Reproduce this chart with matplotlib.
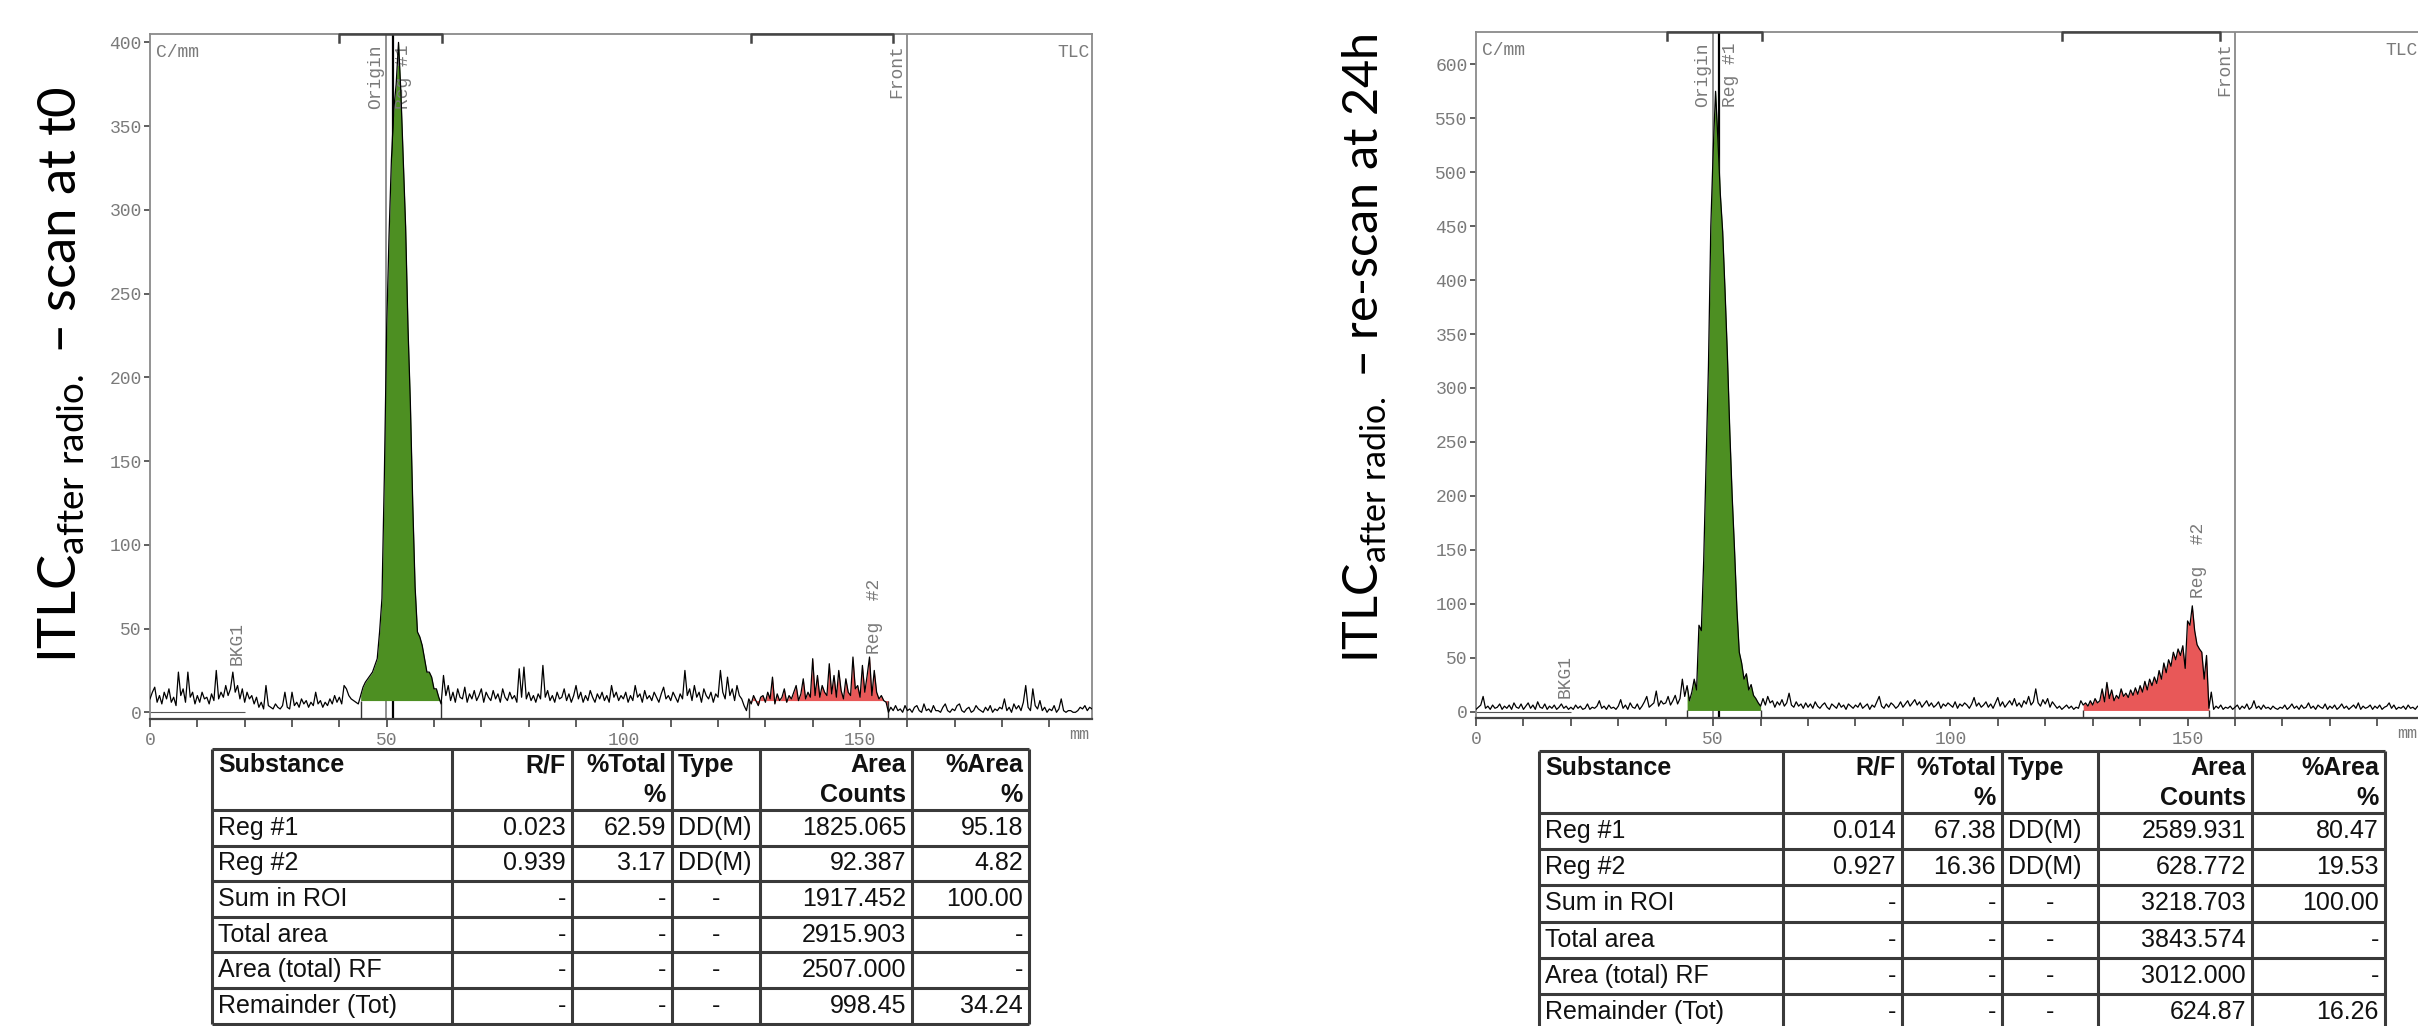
import numpy as np
import matplotlib.pyplot as plt

# counts per mm along the strip, one reading every 0.5 mm (0 .. 199.5 mm)
counts_t0 = [
    8, 12, 15, 6, 10, 5, 12, 8, 14, 6, 9, 4, 24, 10, 14, 6, 24, 9, 12, 5,
    10, 6, 12, 8, 9, 5, 11, 7, 25, 8, 12, 9, 16, 10, 14, 24, 12, 16, 8, 14,
    6, 12, 8, 10, 5, 9, 3, 6, 2, 16, 4, 3, 2, 5, 3, 2, 4, 12, 3, 2,
    12, 4, 6, 3, 8, 5, 7, 3, 6, 4, 12, 5, 7, 3, 6, 4, 8, 5, 10, 6,
    9, 5, 16, 14, 10, 8, 7, 6, 5, 10, 15, 18, 20, 22, 24, 28, 32, 48, 68, 140,
    230, 285, 330, 360, 375, 400, 370, 330, 290, 230, 185, 125, 75, 48, 45, 40, 32, 24, 24, 21,
    14, 14, 9, 5, 22, 10, 16, 7, 12, 6, 14, 9, 8, 15, 6, 11, 8, 13, 7, 10,
    14, 6, 12, 9, 7, 13, 8, 11, 6, 14, 9, 7, 12, 8, 10, 6, 26, 9, 27, 8,
    12, 7, 10, 6, 11, 8, 28, 9, 13, 7, 10, 6, 12, 8, 9, 14, 7, 11, 6, 10,
    16, 8, 12, 6, 10, 7, 13, 9, 6, 11, 8, 12, 7, 10, 6, 16, 9, 12, 7, 10,
    8, 12, 6, 10, 7, 16, 9, 11, 6, 13, 8, 10, 7, 12, 9, 6, 11, 15, 8, 10,
    7, 12, 9, 6, 11, 8, 25, 10, 14, 7, 16, 9, 12, 6, 14, 10, 8, 12, 6, 11,
    9, 25, 12, 8, 21, 10, 14, 7, 16, 10, 8, 4, 1, 8, 5, 10, 7, 4, 9, 10,
    6, 12, 8, 21, 5, 11, 7, 9, 14, 6, 10, 8, 12, 16, 7, 11, 20, 8, 12, 9,
    32, 10, 22, 9, 16, 12, 10, 29, 11, 22, 9, 25, 13, 8, 20, 12, 10, 33, 14, 16,
    9, 28, 12, 22, 33, 10, 25, 12, 8, 10, 7, 6, 0, 3, 1, 4, 1, 2, 0, 4,
    1, 2, 0, 3, 4, 1, 0, 5, 1, 2, 0, 4, 1, 1, 0, 3, 5, 1, 0, 2,
    1, 4, 5, 1, 0, 2, 3, 0, 1, 4, 2, 1, 0, 3, 1, 4, 0, 2, 1, 3,
    2, 8, 1, 3, 0, 5, 2, 4, 1, 6, 16, 3, 1, 14, 4, 2, 7, 1, 3, 0,
    2, 1, 4, 0, 2, 8, 1, 0, 1, 1, 0, 0, 1, 3, 2, 4, 1, 3, 2, 1,
]

counts_24h = [
    2, 4, 6, 14, 3, 5, 2, 6, 3, 4, 7, 2, 5, 3, 6, 2, 8, 4, 3, 7,
    2, 5, 8, 3, 6, 2, 9, 4, 3, 7, 2, 5, 3, 6, 2, 4, 7, 3, 5, 2,
    4, 2, 6, 3, 5, 2, 3, 7, 2, 4, 3, 5, 10, 3, 5, 2, 6, 3, 4, 2,
    5, 11, 3, 6, 2, 8, 4, 3, 7, 2, 5, 9, 14, 4, 6, 8, 19, 5, 10, 7,
    8, 14, 6, 10, 15, 7, 12, 30, 14, 24, 10, 18, 30, 20, 80, 75, 140, 230, 320, 450,
    520, 575, 530, 480, 445, 390, 330, 260, 200, 150, 95, 55, 45, 30, 35, 20, 25, 15, 12, 8,
    5, 12, 6, 14, 8, 10, 4, 9, 6, 11, 5, 8, 17, 6, 4, 9, 5, 7, 3, 8,
    4, 7, 3, 9, 5, 3, 6, 8, 4, 2, 7, 5, 3, 8, 4, 6, 2, 7, 5, 3,
    6, 4, 8, 3, 5, 7, 2, 6, 4, 9, 14, 5, 3, 7, 4, 8, 6, 3, 5, 9,
    4, 7, 10, 5, 8, 11, 6, 9, 4, 7, 10, 5, 8, 4, 6, 9, 3, 7, 5, 8,
    6, 4, 9, 3, 7, 5, 8, 6, 3, 7, 13, 5, 8, 4, 6, 9, 4, 7, 3, 8,
    13, 5, 9, 4, 7, 10, 6, 12, 5, 8, 4, 10, 7, 14, 6, 9, 21, 8, 5, 11,
    7, 12, 4, 9, 6, 3, 5, 2, 4, 6, 3, 5, 2, 4, 3, 10, 6, 8, 5, 10,
    6, 12, 8, 10, 21, 9, 27, 12, 20, 10, 15, 12, 21, 14, 17, 13, 20, 15, 22, 16,
    24, 18, 28, 20, 30, 24, 32, 26, 38, 30, 45, 36, 48, 42, 55, 48, 58, 52, 61, 40,
    84, 80, 98, 75, 62, 58, 55, 30, 52, 3, 18, 2, 5, 3, 6, 2, 4, 3, 5, 2,
    4, 6, 2, 5, 3, 7, 2, 4, 10, 3, 5, 2, 6, 3, 4, 2, 5, 3, 2, 4,
    3, 6, 2, 4, 7, 3, 5, 2, 6, 3, 4, 8, 3, 5, 2, 6, 4, 3, 7, 2,
    5, 3, 6, 2, 4, 7, 3, 5, 2, 4, 6, 3, 8, 2, 5, 3, 4, 6, 2, 5,
    3, 6, 2, 4, 5, 8, 3, 6, 2, 4, 3, 5, 2, 6, 3, 4, 2, 5, 3, 4,
]

# integration regions (mm) and their background level
regions_t0 = [(44.5, 61.5), (126.5, 156.0)]
regions_24h = [(44.5, 60.0), (128.0, 154.6)]
floor_t0 = 7
floor_24h = 1
brackets_t0 = [(40.0, 61.7), (127.0, 157.0)]
brackets_24h = [(40.2, 60.2), (123.5, 156.8)]
origin_mm = [49.8, 50.0]
reg1_mm = [51.3, 51.3]
front_mm = [160.0, 160.0]
reg2_label = [(153.0, 35), (152.3, 105)]
bkg_label = [(18.4, 28), (18.8, 13)]

table_head = [("Substance", ""), ("R/F", ""), ("%Total", "%"), ("Type", ""),
              ("Area", "Counts"), ("%Area", "%")]
rows_t0 = [
    ["Reg #1", "0.023", "62.59", "DD(M)", "1825.065", "95.18"],
    ["Reg #2", "0.939", "3.17", "DD(M)", "92.387", "4.82"],
    ["Sum in ROI", "-", "-", "-", "1917.452", "100.00"],
    ["Total area", "-", "-", "-", "2915.903", "-"],
    ["Area (total) RF", "-", "-", "-", "2507.000", "-"],
    ["Remainder (Tot)", "-", "-", "-", "998.45", "34.24"],
]
rows_24h = [
    ["Reg #1", "0.014", "67.38", "DD(M)", "2589.931", "80.47"],
    ["Reg #2", "0.927", "16.36", "DD(M)", "628.772", "19.53"],
    ["Sum in ROI", "-", "-", "-", "3218.703", "100.00"],
    ["Total area", "-", "-", "-", "3843.574", "-"],
    ["Area (total) RF", "-", "-", "-", "3012.000", "-"],
    ["Remainder (Tot)", "-", "-", "-", "624.87", "16.26"],
]
titles = ["scan at t0", "re-scan at 24h"]

W, H = 2418, 1026
fig = plt.figure(figsize=(W / 100, H / 100), dpi=100)
mono = ["Liberation Mono", "DejaVu Sans Mono"]
sans = ["Liberation Sans", "DejaVu Sans"]
grey = "#7a7a7a"


def px_axes(left, top, right, bottom):
    return fig.add_axes([left / W, 1 - bottom / H, (right - left) / W, (bottom - top) / H])


def draw_scan(ax, counts, regions, floor, brackets, ymax, yticks, i):
    y = np.array(counts, dtype=float)
    x = np.arange(len(y)) * 0.5
    ax.set_xlim(0, 199)
    ax.set_ylim(ymax[0], ymax[1])

    ax.axvline(origin_mm[i], color="#888888", lw=1.3, zorder=1)
    ax.axvline(front_mm[i], color="#888888", lw=1.3, zorder=1)
    ax.axvline(reg1_mm[i], color="black", lw=1.6, zorder=1)

    colors = ["#4d8f22", "#e85858"]
    for (a, b), c in zip(regions, colors):
        m = (x >= a) & (x <= b)
        ax.fill_between(x[m], floor, y[m], color=c, lw=0, zorder=2)
        ax.vlines([a, b], ymax[0], floor, color="#333333", lw=1.0, zorder=3)
    ax.hlines(0, 0, 20, color="#555555", lw=0.8, zorder=2)
    ax.plot(x, y, color="black", lw=0.9, zorder=4)

    # region brackets on top edge
    tick = ymax[1] * 0.012
    for a, b in brackets:
        ax.plot([a, a, b, b], [ymax[1] - tick, ymax[1], ymax[1], ymax[1] - tick],
                color="#444444", lw=1.8, clip_on=False, zorder=5)

    kw = dict(family=mono, fontsize=13, color=grey, rotation=90)
    top = ymax[1] * 0.985
    ax.text(origin_mm[i] - 0.4, top, "Origin", ha="right", va="top", **kw)
    ax.text(reg1_mm[i] + 0.5, top, "Reg #1", ha="left", va="top", **kw)
    ax.text(front_mm[i] - 0.4, top, "Front", ha="right", va="top", **kw)
    ax.text(reg2_label[i][0], reg2_label[i][1], "Reg  #2", ha="center", va="bottom", **kw)
    ax.text(bkg_label[i][0], bkg_label[i][1], "BKG1", ha="center", va="bottom", **kw)
    ax.text(0.006, 0.985, "C/mm", transform=ax.transAxes, ha="left", va="top",
            family=mono, fontsize=13, color=grey)
    ax.text(0.997, 0.985, "TLC", transform=ax.transAxes, ha="right", va="top",
            family=mono, fontsize=13, color=grey)
    ax.text(0.997, -0.012, "mm", transform=ax.transAxes, ha="right", va="top",
            family=mono, fontsize=12, color=grey)

    ax.set_xticks([0, 50, 100, 150])
    ax.set_xticks(np.arange(0, 200, 10), minor=True)
    ax.set_yticks(yticks)
    ax.tick_params(axis="both", which="both", direction="out", colors="#444444",
                   labelcolor=grey, labelsize=13, width=1.2)
    ax.tick_params(axis="x", which="both", length=6)
    ax.tick_params(axis="y", length=4, pad=2)
    for lab in ax.get_xticklabels() + ax.get_yticklabels():
        lab.set_family(mono)
    for s in ["left", "top", "right"]:
        ax.spines[s].set_color("#8a8a8a")
        ax.spines[s].set_linewidth(1.3)
    ax.spines["bottom"].set_color("#444444")
    ax.spines["bottom"].set_linewidth(1.6)


ax1 = px_axes(150, 34, 1092, 719)
draw_scan(ax1, counts_t0, regions_t0, floor_t0, brackets_t0, (-4, 405),
          np.arange(0, 401, 50), 0)
ax2 = px_axes(1476, 32, 2420, 718)
draw_scan(ax2, counts_24h, regions_24h, floor_24h, brackets_24h, (-6, 630),
          np.arange(0, 601, 50), 1)

# overlay in pixel coordinates for tables and side titles
ov = fig.add_axes([0, 0, 1, 1], facecolor="none")
ov.set_xlim(0, W)
ov.set_ylim(H, 0)
ov.axis("off")


def draw_table(cols, top, head_h, row_h, rows):
    n = len(rows)
    ys = [top, top + head_h] + [top + head_h + row_h * (k + 1) for k in range(n)]
    for yy in ys:
        ov.plot([cols[0], cols[-1]], [yy, yy], color="#3a3a3a", lw=2.2, solid_capstyle="butt")
    for xx in cols:
        ov.plot([xx, xx], [top, ys[-1]], color="#3a3a3a", lw=2.2, solid_capstyle="butt")
    pad = 6
    for j, (l1, l2) in enumerate(table_head):
        left_al = j in (0, 3)
        xx = cols[j] + pad if left_al else cols[j + 1] - pad
        ha = "left" if left_al else "right"
        ov.text(xx, top + head_h * 0.27, l1, ha=ha, va="center", family=sans,
                fontsize=18, fontweight="bold", color="#111111")
        if l2:
            ov.text(xx, top + head_h * 0.76, l2, ha=ha, va="center", family=sans,
                    fontsize=18, fontweight="bold", color="#111111")
    for r, row in enumerate(rows):
        yc = top + head_h + row_h * (r + 0.5)
        for j, val in enumerate(row):
            if j == 0 or (j == 3 and val != "-"):
                ov.text(cols[j] + pad, yc, val, ha="left", va="center", family=sans,
                        fontsize=18, color="#111111")
            elif j == 3:
                ov.text((cols[j] + cols[j + 1]) / 2, yc, val, ha="center", va="center",
                        family=sans, fontsize=18, color="#111111")
            else:
                ov.text(cols[j + 1] - pad, yc, val, ha="right", va="center", family=sans,
                        fontsize=18, color="#111111")


draw_table([212, 452, 572, 672, 760, 912, 1029], 749, 61, 35.6, rows_t0)
draw_table([1539, 1783, 1902, 2002, 2098, 2252, 2385], 751, 62, 36.2, rows_24h)

for xc, t, fs in zip([62, 1365], titles, [38, 35]):
    ov.text(xc, 663, "ITLC$_{\\mathregular{after\\ radio.}}$ – " + t, rotation=90,
            ha="center", va="bottom", family=["Lato", "DejaVu Sans"], fontsize=fs,
            color="black")

fig.savefig("out.png", dpi=100)
